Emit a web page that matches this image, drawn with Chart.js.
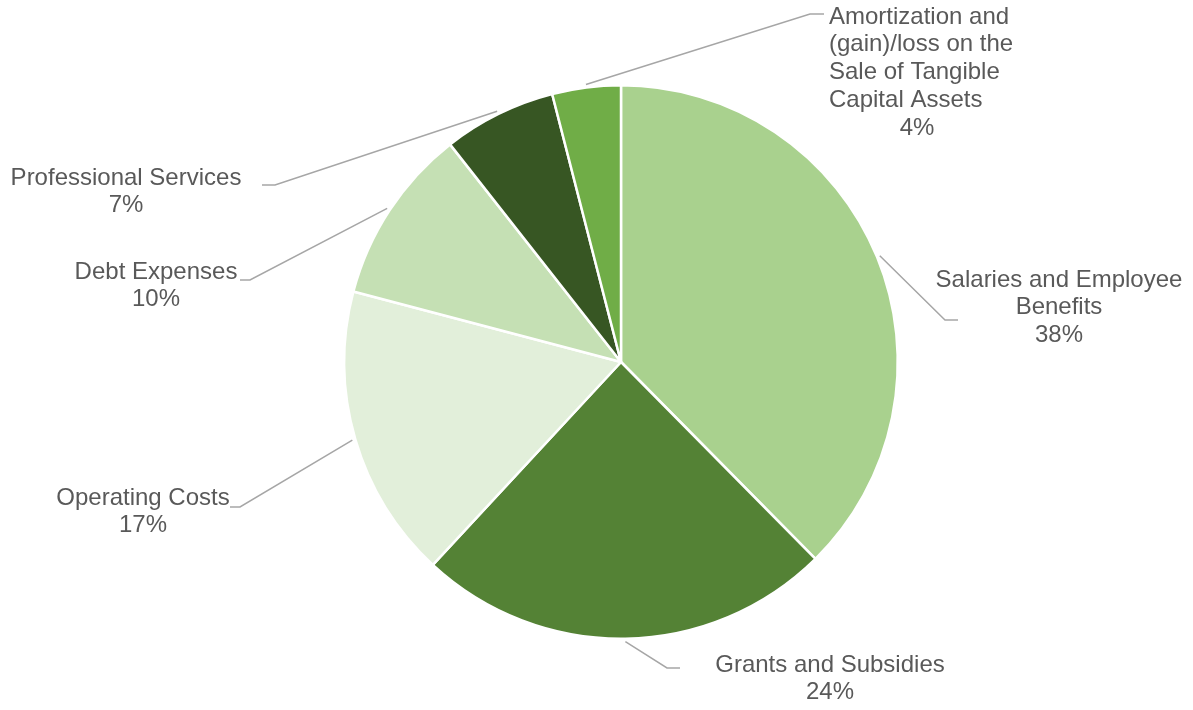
<!DOCTYPE html>
<html>
<head>
<meta charset="utf-8">
<script src="https://cdn.jsdelivr.net/npm/chart.js@4"></script>
<style>
  body { margin: 0; background: #fff; }
  #wrap { width: 1193px; height: 710px; }
</style>
</head>
<body>
<div id="wrap"><canvas id="pie" width="1193" height="710"></canvas></div>
<script>
const categories = [
  ["Salaries and Employee", "Benefits"],
  ["Grants and Subsidies"],
  ["Operating Costs"],
  ["Debt Expenses"],
  ["Professional Services"],
  ["Amortization and", "(gain)/loss on the", "Sale of Tangible", "Capital Assets"]
];
const shares = [37.6, 24.3, 17.2, 10.3, 6.6, 4.0];
const sliceColors = ["#A9D18E", "#548235", "#E2EFDA", "#C5E0B4", "#375623", "#70AD47"];

// where each label sits and where its leader line bends
const labelLayout = [
  {elbow: [945, 320], end: [958, 320], x: 1059, y: 280, align: "center"},
  {elbow: [667, 668], end: [680, 668], x: 830, y: 665, align: "center"},
  {elbow: [240, 507], end: [230, 507], x: 143, y: 498, align: "center"},
  {elbow: [250, 280], end: [240, 280], x: 156, y: 272, align: "center"},
  {elbow: [275, 185], end: [262, 185], x: 126, y: 178, align: "center"},
  {elbow: [810, 14], end: [824, 14], x: 829, y: 17, align: "left", pctX: 917}
];

const FONT = '24px "Liberation Sans", Arial, sans-serif';
const LINE_H = 27.8;

const outsideLabels = {
  id: "outsideLabels",
  afterDraw(chart) {
    const ctx = chart.ctx;
    const meta = chart.getDatasetMeta(0);
    const total = shares.reduce((a, b) => a + b, 0);
    ctx.save();
    ctx.font = FONT;
    meta.data.forEach((arc, i) => {
      const lay = labelLayout[i];
      const mid = (arc.startAngle + arc.endAngle) / 2;
      const r = arc.outerRadius + 3;
      const sx = arc.x + Math.cos(mid) * r;
      const sy = arc.y + Math.sin(mid) * r;

      ctx.strokeStyle = "#A6A6A6";
      ctx.lineWidth = 1.5;
      ctx.beginPath();
      ctx.moveTo(sx, sy);
      ctx.lineTo(lay.elbow[0], lay.elbow[1]);
      ctx.lineTo(lay.end[0], lay.end[1]);
      ctx.stroke();

      const lines = categories[i].slice();
      const pct = Math.round(shares[i] / total * 100) + "%";
      ctx.fillStyle = "#595959";
      ctx.textBaseline = "middle";
      if (lay.align === "left") {
        ctx.textAlign = "left";
        lines.forEach((l, k) => ctx.fillText(l, lay.x, lay.y + k * LINE_H));
        ctx.textAlign = "center";
        ctx.fillText(pct, lay.pctX, lay.y + lines.length * LINE_H);
      } else {
        ctx.textAlign = "center";
        lines.push(pct);
        lines.forEach((l, k) => ctx.fillText(l, lay.x, lay.y + k * LINE_H));
      }
    });
    ctx.restore();
  }
};

new Chart(document.getElementById("pie"), {
  type: "pie",
  data: {
    labels: categories,
    datasets: [{
      data: shares,
      backgroundColor: sliceColors,
      borderColor: "#FFFFFF",
      borderWidth: 2.5
    }]
  },
  options: {
    responsive: false,
    animation: false,
    layout: { padding: { top: 84, bottom: 70, left: 49, right: 0 } },
    plugins: {
      legend: { display: false },
      tooltip: { enabled: false }
    }
  },
  plugins: [outsideLabels]
});
</script>
</body>
</html>
